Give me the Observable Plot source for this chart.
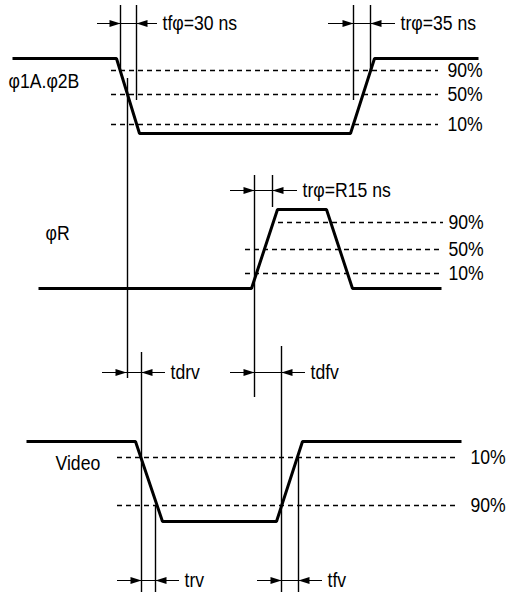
<!DOCTYPE html>
<html>
<head>
<meta charset="utf-8">
<script src="https://cdn.jsdelivr.net/npm/d3@7"></script>
<script src="https://cdn.jsdelivr.net/npm/@observablehq/plot@0.6"></script>
<style>
  html, body { margin: 0; padding: 0; background: #fff; }
  #chart svg { display: block; }
</style>
</head>
<body>
<div id="chart"></div>
<script>
// ---- Waveforms (time axis, signal axis in diagram units) ----
const phiAB_t = [12, 116, 139, 350, 374, 478];
const phiAB_v = [58, 58, 133, 133, 58, 58];
const phiR_t  = [38, 251, 277, 326, 352, 441];
const phiR_v  = [288, 288, 209, 209, 288, 288];
const video_t = [26, 135, 162, 276, 302, 461];
const video_v = [441, 441, 521, 521, 441, 441];

// ---- Signal names ----
const sigNames = ["φ1A.φ2B", "φR", "Video"];
const sigX = [8, 45, 55];
const sigY = [81, 233, 463];

// ---- Threshold levels ----
const thrLabels = ["90%", "50%", "10%", "90%", "50%", "10%", "10%", "90%"];
const thrY  = [70, 94, 124, 222, 249, 273, 457, 505];
const thrX1 = [111, 111, 111, 278, 245, 245, 117, 117];
const thrX2 = [438, 438, 438, 443, 443, 443, 458, 458];
const thrLX = [447, 447, 447, 448, 448, 448, 470, 470];

// ---- Vertical reference lines ----
const refX  = [120, 136, 127, 353, 370, 254, 272, 141, 155, 281, 298];
const refY1 = [5, 5, 78, 5, 5, 175, 175, 352, 505, 346, 457];
const refY2 = [70, 100, 378, 100, 70, 397, 207, 592, 592, 592, 592];

// ---- Timing markers ----
const mkLabel = ["tfφ=30 ns", "trφ=35 ns", "trφ=R15 ns", "tdrv", "tdfv", "trv", "tfv"];
const mkY     = [23, 23, 190, 372, 372, 580, 580];
const mkA     = [120, 353, 254, 126, 254, 141, 281];
const mkB     = [136, 370, 272, 141, 281, 155, 298];
const mkTailL = [97, 328, 230, 102, 230, 117, 257];
const mkTailR = [157, 395, 297, 165, 305, 179, 322];

// ---- Build tables ----
const wave = [];
[["a", phiAB_t, phiAB_v], ["r", phiR_t, phiR_v], ["v", video_t, video_v]].forEach(([k, T, V]) => {
  T.forEach((t, i) => wave.push({sig: k, t, v: V[i]}));
});
const sigs = sigNames.map((name, i) => ({name, x: sigX[i], y: sigY[i]}));
const thr = thrLabels.map((label, i) => ({label, y: thrY[i], x1: thrX1[i], x2: thrX2[i], lx: thrLX[i]}));
const refs = refX.map((x, i) => ({x, y1: refY1[i], y2: refY2[i]}));
const marks = mkLabel.map((label, i) => ({label, y: mkY[i], a: mkA[i], b: mkB[i], tl: mkTailL[i], tr: mkTailR[i]}));

const head = {
  draw(context, l) {
    context.moveTo(0, -l);
    context.lineTo(3.5, 0);
    context.lineTo(-3.5, 0);
    context.closePath();
  }
};

const FONT = "'Liberation Sans', Arial, sans-serif";

const chart = Plot.plot({
  width: 507,
  height: 596,
  margin: 0,
  x: {domain: [0, 507], axis: null},
  y: {domain: [0, 596], reverse: true, axis: null},
  style: {fontFamily: FONT, background: "#fff", color: "#000"},
  marks: [
    Plot.ruleY(thr, {y: "y", x1: "x1", x2: "x2", stroke: "#000", strokeWidth: 1.4, strokeDasharray: "5,4"}),
    Plot.ruleX(refs, {x: "x", y1: "y1", y2: "y2", stroke: "#000", strokeWidth: 1.4}),
    Plot.line(wave, {x: "t", y: "v", z: "sig", stroke: "#000", strokeWidth: 3, strokeLinejoin: "miter", strokeLinecap: "butt"}),
    Plot.ruleY(marks, {y: "y", x1: "tl", x2: "tr", stroke: "#000", strokeWidth: 1.2}),
    Plot.vector(marks, {x: "a", y: "y", rotate: 90, anchor: "end", length: 11, shape: head, fill: "#000", stroke: "none"}),
    Plot.vector(marks, {x: "b", y: "y", rotate: -90, anchor: "end", length: 11, shape: head, fill: "#000", stroke: "none"}),
    Plot.text(marks, {x: d => d.tr + 5, y: "y", text: "label", textAnchor: "start", fontSize: 21, fill: "#000"}),
    Plot.text(thr, {x: "lx", y: "y", text: "label", textAnchor: "start", fontSize: 21, fill: "#000"}),
    Plot.text(sigs, {x: "x", y: "y", text: "name", textAnchor: "start", fontSize: 21, fill: "#000"})
  ]
});
// condensed lettering, as in the reference
d3.select(chart).selectAll("text").each(function () {
  const t = this.getAttribute("transform");
  if (t) this.setAttribute("transform", t + " scale(0.84,1)");
});
document.getElementById("chart").appendChild(chart);
</script>
</body>
</html>
